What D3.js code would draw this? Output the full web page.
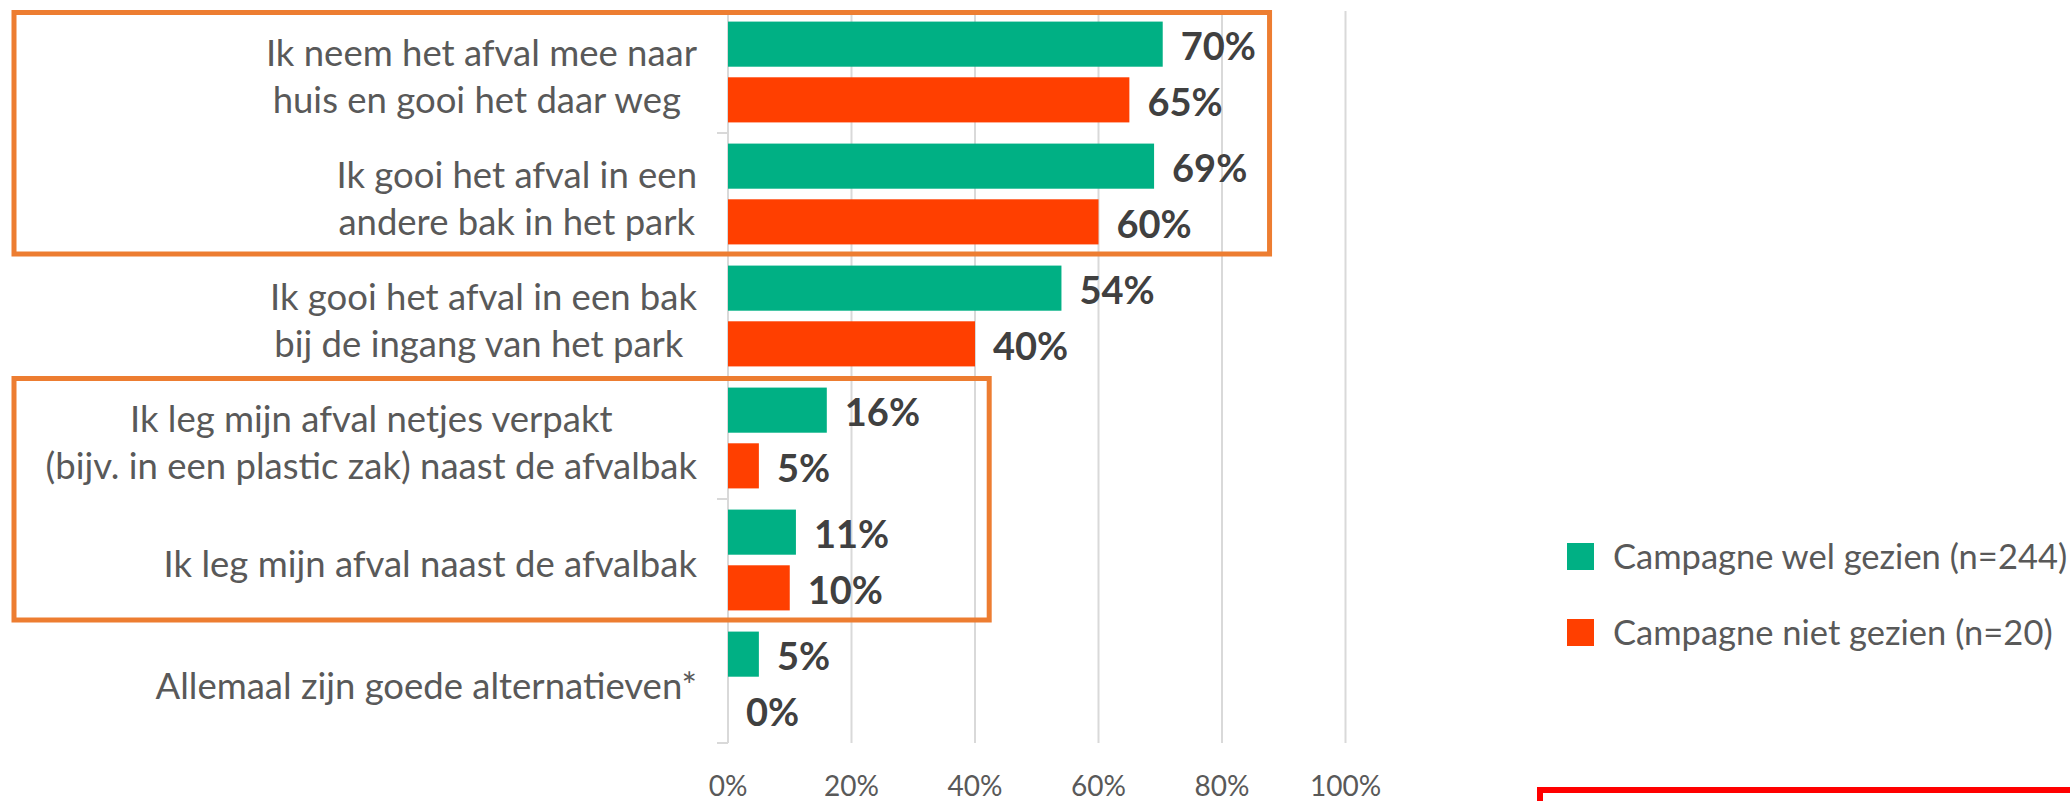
<!DOCTYPE html>
<html>
  <head>
    <meta charset="utf-8">
    <style>
    body {
      font-family: Lato, "Open Sans", sans-serif;
      margin: 0;
      background: #fff;
    }
    </style>
  </head>
  <body>
    <script src="https://d3js.org/d3.v7.min.js"></script>
    <script>
    var width = 2070, height = 801;

    // categories (line breaks as in the original labels)
    var categories = [
      "Ik neem het afval mee naar\nhuis en gooi het daar weg ",
      "Ik gooi het afval in een\nandere bak in het park",
      "Ik gooi het afval in een bak\nbij de ingang van het park ",
      "Ik leg mijn afval netjes verpakt\n(bijv. in een plastic zak) naast de afvalbak",
      "Ik leg mijn afval naast de afvalbak",
      "Allemaal zijn goede alternatieven*"
    ];
    var seriesNames = ["Campagne wel gezien (n=244)", "Campagne niet gezien (n=20)"];
    var welGezien = [0.704, 0.69, 0.54, 0.16, 0.11, 0.05];
    var nietGezien = [0.65, 0.60, 0.40, 0.05, 0.10, 0.00];
    var xTicks = [0, 0.2, 0.4, 0.6, 0.8, 1.0];
    // highlighted groups: first category, last category, right edge (in axis units)
    var highlights = [[0, 1, 0.877], [3, 4, 0.423]];

    var colors = ["#00B084", "#FF3F00"];

    var svg = d3.select("body").append("svg")
        .attr("width", width)
        .attr("height", height);

    svg.append("rect").attr("width", width).attr("height", height).attr("fill", "#fff");

    var x = d3.scaleLinear().domain([0, 1]).range([728, 1345.5]);
    var y = d3.scaleBand().domain(d3.range(categories.length)).range([11, 743]);
    var ySub = d3.scaleBand().domain([0, 1]).range([0, y.bandwidth()]).padding(0.19);

    // gridlines
    svg.append("g").selectAll("line")
      .data(xTicks.slice(1))
      .enter().append("line")
        .attr("x1", function(d) { return x(d); })
        .attr("x2", function(d) { return x(d); })
        .attr("y1", y.range()[0])
        .attr("y2", y.range()[1])
        .attr("stroke", "#D9D9D9")
        .attr("stroke-width", 2);

    // category axis line + ticks
    svg.append("line")
        .attr("x1", x(0)).attr("x2", x(0))
        .attr("y1", y.range()[0]).attr("y2", y.range()[1])
        .attr("stroke", "#D9D9D9").attr("stroke-width", 2);

    svg.append("g").selectAll("line")
      .data(d3.range(categories.length + 1))
      .enter().append("line")
        .attr("x1", x(0) - 11).attr("x2", x(0))
        .attr("y1", function(i) { return y.range()[0] + i * y.step(); })
        .attr("y2", function(i) { return y.range()[0] + i * y.step(); })
        .attr("stroke", "#D9D9D9").attr("stroke-width", 2);

    // x tick labels
    svg.append("g").selectAll("text")
      .data(xTicks)
      .enter().append("text")
        .attr("x", function(d) { return x(d); })
        .attr("y", 796)
        .attr("text-anchor", "middle")
        .attr("font-size", 28)
        .attr("fill", "#595959")
        .text(d3.format(".0%"));

    // bars
    var rows = [];
    categories.forEach(function(c, i) {
      rows.push({cat: i, s: 0, v: welGezien[i]});
      rows.push({cat: i, s: 1, v: nietGezien[i]});
    });

    svg.append("g").selectAll("rect")
      .data(rows)
      .enter().append("rect")
        .attr("x", x(0))
        .attr("y", function(d) { return y(d.cat) + ySub(d.s); })
        .attr("width", function(d) { return x(d.v) - x(0); })
        .attr("height", ySub.bandwidth())
        .attr("fill", function(d) { return colors[d.s]; });

    // value labels
    svg.append("g").selectAll("text")
      .data(rows)
      .enter().append("text")
        .attr("x", function(d) { return x(d.v) + 18; })
        .attr("y", function(d) { return y(d.cat) + ySub(d.s) + ySub.bandwidth() / 2 + 2; })
        .attr("dy", "0.36em")
        .attr("font-size", 38)
        .attr("font-weight", "bold")
        .attr("fill", "#404040")
        .text(function(d) { return d3.format(".0%")(d.v); });

    // category labels, lines centred inside a right-aligned block
    var labelRight = 697, lineGap = 47, catSize = 36.5;
    var catG = svg.append("g");
    categories.forEach(function(c, i) {
      var lines = c.split("\n");
      var g = catG.append("g");
      var cy = y(i) + y.bandwidth() / 2 + 4;
      var texts = g.selectAll("text")
        .data(lines)
        .enter().append("text")
          .style("white-space", "pre")
          .attr("font-size", catSize)
          .attr("fill", "#595959")
          .attr("text-anchor", "middle")
          .attr("y", function(d, j) { return cy + (j - (lines.length - 1) / 2) * lineGap; })
          .attr("dy", "0.36em")
          .text(function(d) { return d; });
      var maxW = 0;
      texts.each(function() { maxW = Math.max(maxW, this.getComputedTextLength()); });
      texts.attr("x", labelRight - maxW / 2);
    });

    // orange highlight boxes
    svg.append("g").selectAll("rect")
      .data(highlights)
      .enter().append("rect")
        .attr("x", 14)
        .attr("y", function(d) { return y(d[0]) + 1.5; })
        .attr("width", function(d) { return x(d[2]) - 14; })
        .attr("height", function(d) { return y(d[1]) + y.bandwidth() - y(d[0]) - 2.5; })
        .attr("fill", "none")
        .attr("stroke", "#ED7D31")
        .attr("stroke-width", 5);

    // legend
    var legend = svg.append("g").selectAll("g")
      .data(seriesNames)
      .enter().append("g")
        .attr("transform", function(d, i) { return "translate(1567," + (543 + i * 76) + ")"; });

    legend.append("rect")
        .attr("width", 27).attr("height", 27)
        .attr("fill", function(d, i) { return colors[i]; });

    legend.append("text")
        .attr("x", 46)
        .attr("y", 14)
        .attr("dy", "0.36em")
        .attr("font-size", 34.5)
        .attr("fill", "#595959")
        .text(function(d) { return d; });

    // red frame peeking in at bottom right
    svg.append("rect")
        .attr("x", 1540).attr("y", 790)
        .attr("width", 600).attr("height", 100)
        .attr("fill", "none")
        .attr("stroke", "#FF0000")
        .attr("stroke-width", 6);
    </script>
  </body>
</html>
